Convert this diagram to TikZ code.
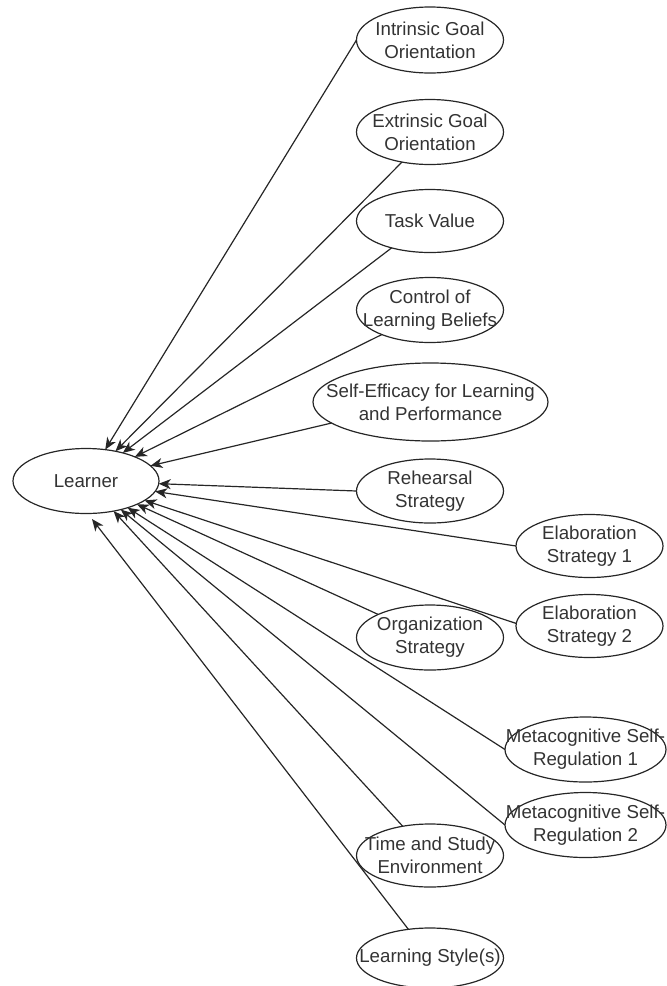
\documentclass[tikz,border=0pt]{standalone}
\usepackage{fontspec}
\setmainfont{Liberation Sans}
\usetikzlibrary{shapes.geometric,arrows.meta}
\begin{document}
\begin{tikzpicture}[x=1pt,y=-1pt,
  oval/.style={ellipse, draw=black!85, line width=1.2pt, inner sep=0pt, outer sep=0pt,
               minimum width=147pt, minimum height=65pt},
  lbl/.style={align=center, text=black!80, inner sep=0pt,
              font=\fontsize{18.7}{23}\selectfont},
  link/.style={draw=black!85, line width=1.2pt,
               -{Stealth[length=12pt,width=10pt,inset=3.5pt]}}
]
\useasboundingbox (0,0) rectangle (667,986);

% central concept
\node[oval, minimum width=146pt, label={[lbl]center:Learner}] (learner) at (86,481) {};

% motivation scales
\node[oval, minimum height=66pt, label={[lbl]center:Intrinsic Goal\\Orientation}] (igo) at (430,40) {};
\node[oval, label={[lbl]center:Extrinsic Goal\\Orientation}] (ego) at (430,132) {};
\node[oval, minimum height=63pt, label={[lbl]center:Task Value}] (tv) at (430,221) {};
\node[oval, label={[lbl]center:Control of\\Learning Beliefs}] (clb) at (430,310) {};
\node[oval, minimum width=235pt, minimum height=78pt,
      label={[lbl]center:Self-Efficacy for Learning\\and Performance}] (sef) at (430.5,402) {};

% learning strategy scales
\node[oval, minimum height=64pt, label={[lbl]center:Rehearsal\\Strategy}] (reh) at (430,491) {};
\node[oval, minimum height=63pt, label={[lbl]center:Elaboration\\Strategy 1}] (el1) at (589.5,546) {};
\node[oval, minimum height=63pt, label={[lbl]center:Elaboration\\Strategy 2}] (el2) at (589.5,626) {};
\node[oval, label={[lbl]center:Organization\\Strategy}] (org) at (430,637.5) {};
\node[oval, minimum width=161pt, label={[lbl]center:Metacognitive Self-\\Regulation 1}] (mc1) at (585.5,749.5) {};
\node[oval, minimum width=161pt, label={[lbl]center:Metacognitive Self-\\Regulation 2}] (mc2) at (585.5,825) {};
\node[oval, minimum height=63pt, label={[lbl]center:Time and Study\\Environment}] (tse) at (430,855.5) {};
\node[oval, minimum height=60pt, label={[lbl]center:Learning Style(s)}] (ls) at (430,958) {};

% connectors into the learner
\draw[link] (igo.180) -- (learner);
\draw[link] (ego.227) -- (learner);
\draw[link] (tv.215) -- (learner);
\draw[link] (clb.207) -- (learner);
\draw[link] (sef.192) -- (learner);
\draw[link] (reh.180) -- (learner);
\draw[link] (el1.180) -- (learner);
\draw[link] (el2.178) -- (learner);
\draw[link] (org.156) -- (learner);
\draw[link] (mc1.180) -- (learner);
\draw[link] (mc2.180) -- (learner);
\draw[link] (tse.133) -- (learner);
\coordinate (lsend) at (92,519);
\draw[link] (ls.127) -- (lsend);
\end{tikzpicture}
\end{document}
